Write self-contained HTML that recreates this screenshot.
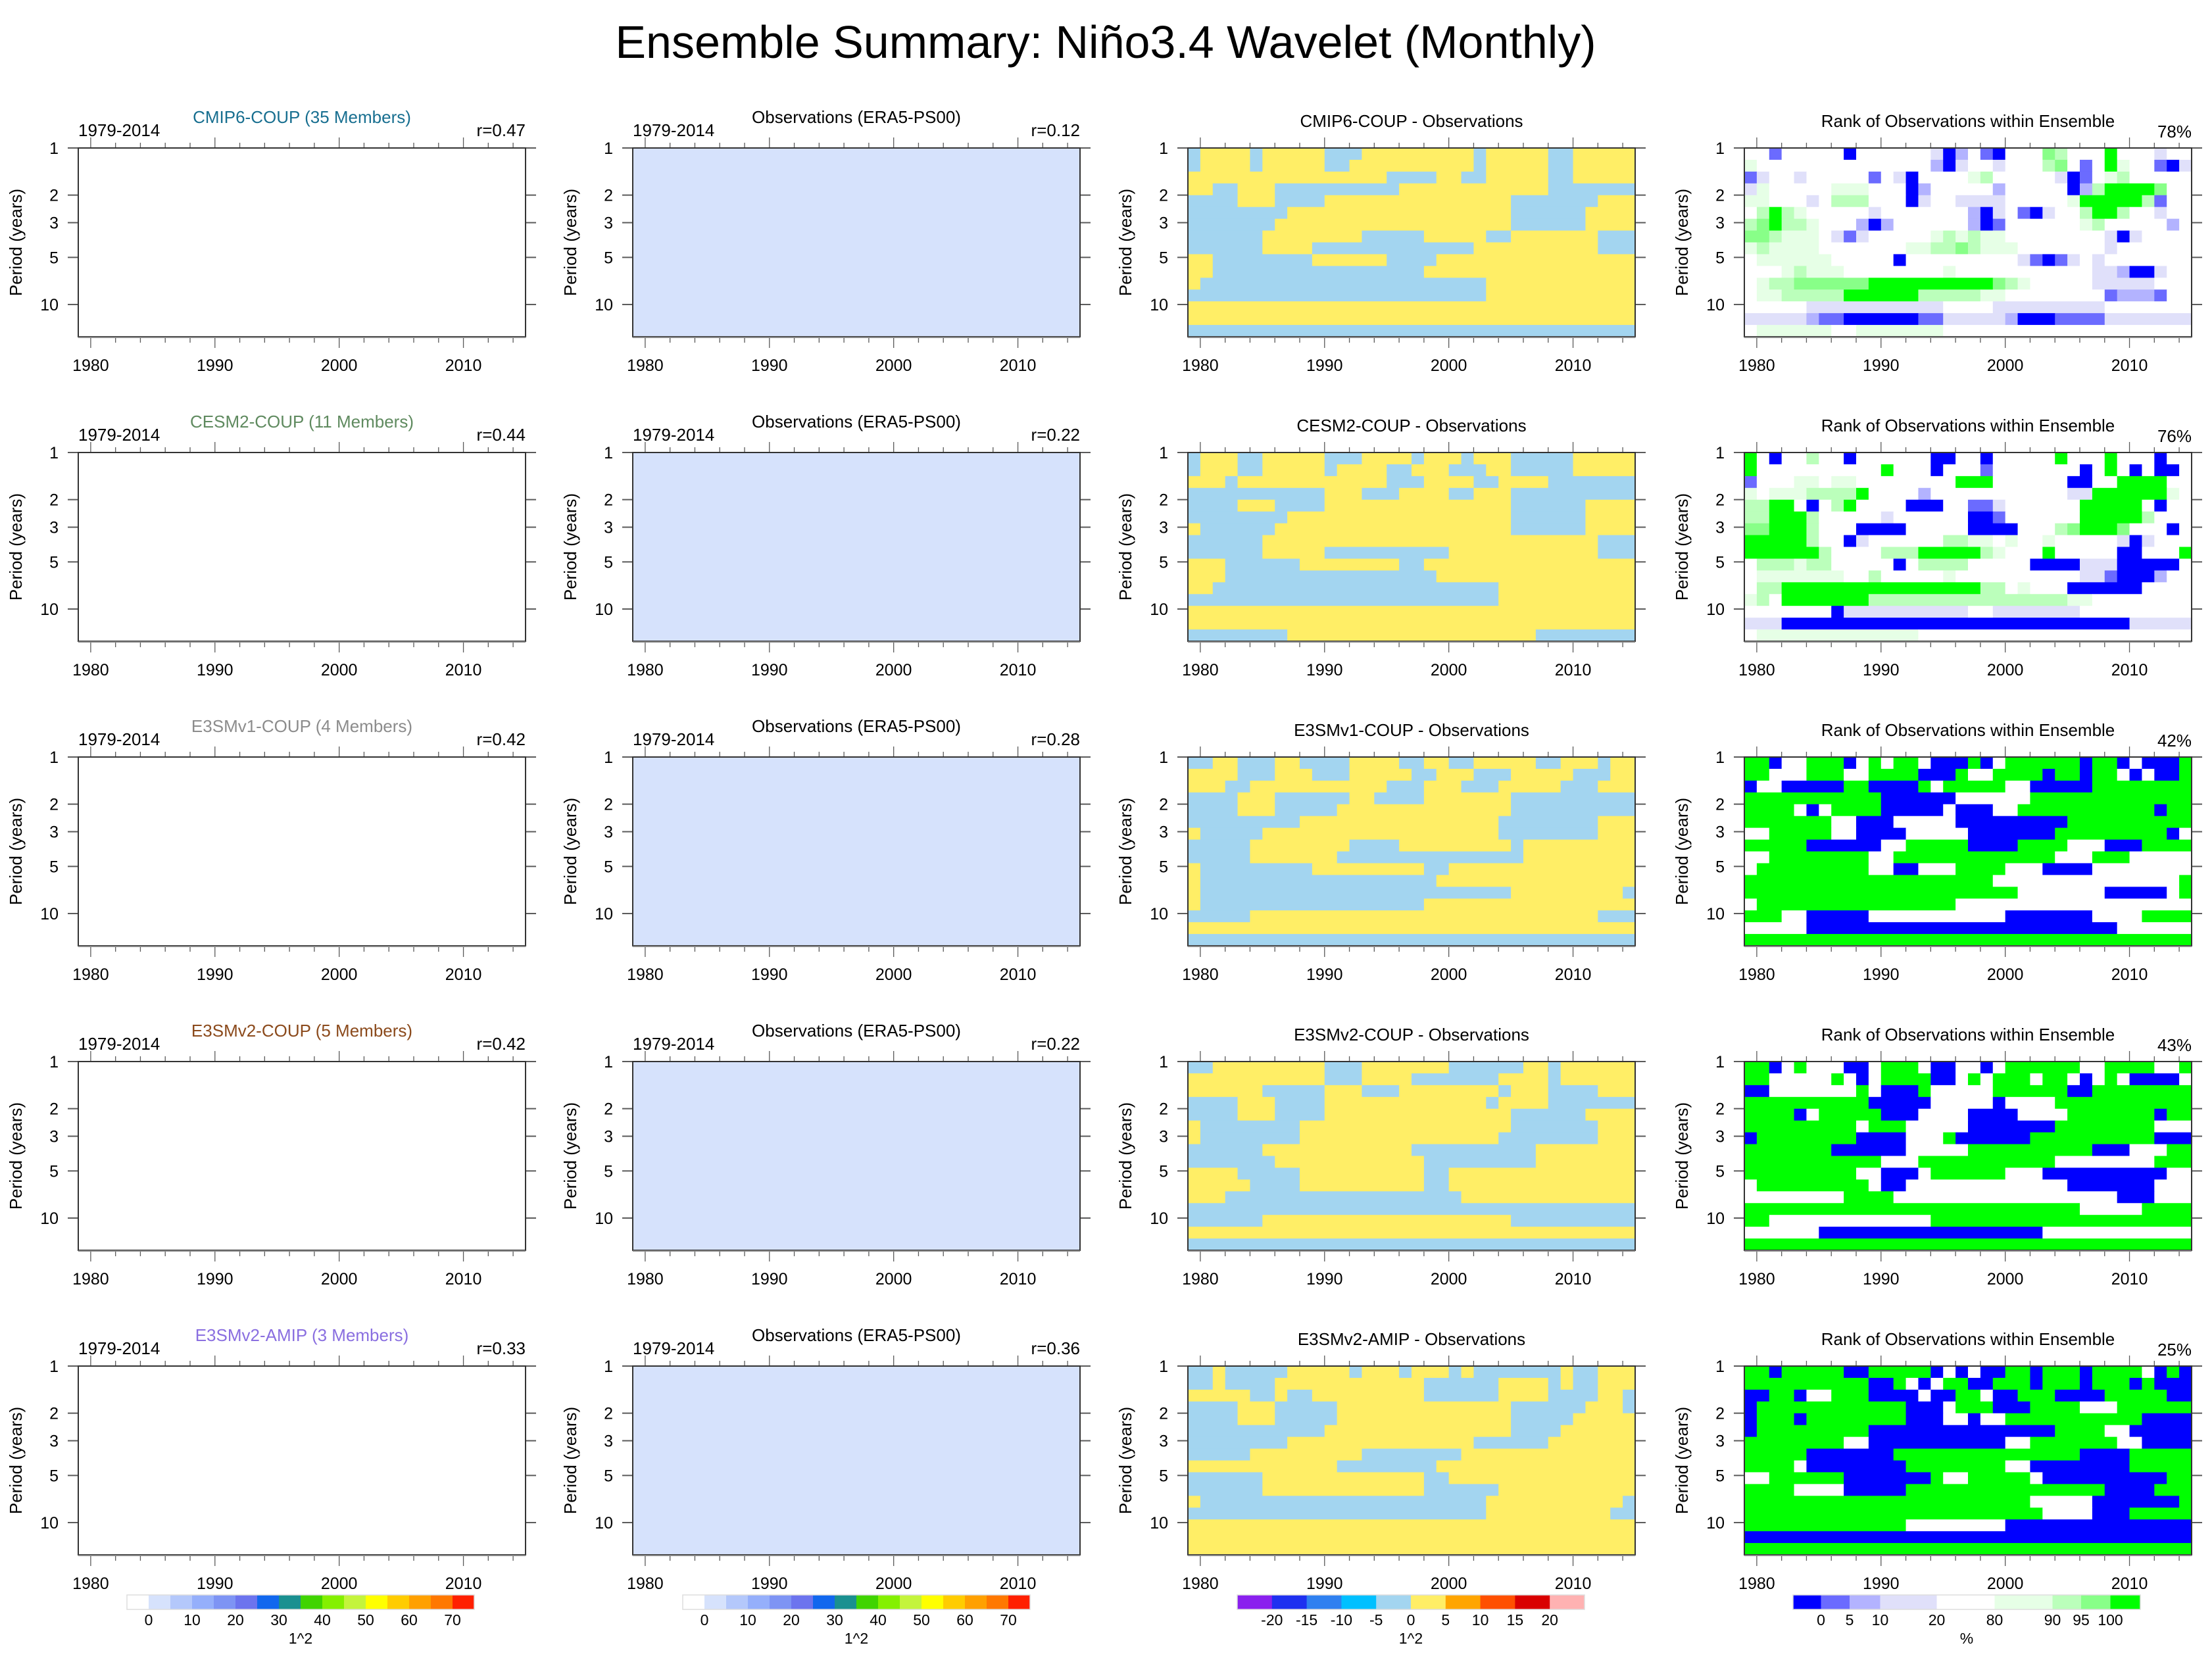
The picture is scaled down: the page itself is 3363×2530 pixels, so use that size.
<!DOCTYPE html>
<html><head><meta charset="utf-8"><title>Ensemble Summary: Niño3.4 Wavelet (Monthly)</title>
<style>html,body{margin:0;padding:0;background:#fff}svg{display:block}text{font-family:"Liberation Sans",Arial,sans-serif}</style>
</head><body>
<svg id="fig" xmlns="http://www.w3.org/2000/svg" width="3363" height="2530" viewBox="0 0 3363 2530">
<rect x="0" y="0" width="3363" height="2530" fill="#ffffff"/>
<text x="1681" y="88" font-size="70" text-anchor="middle" fill="#000">Ensemble Summary: Niño3.4 Wavelet (Monthly)</text>
</svg>
<script>
// ---- data ----
const yearTicks=[1980,1990,2000,2010];
const minorYears=[1980,1982,1984,1986,1988,1990,1992,1994,1996,1998,2000,2002,2004,2006,2008,2010,2012,2014];
const periodTicks=[1,2,3,5,10];
const periodLabels=["1","2","3","5","10"];
const modelTitles=["CMIP6-COUP (35 Members)","CESM2-COUP (11 Members)","E3SMv1-COUP (4 Members)","E3SMv2-COUP (5 Members)","E3SMv2-AMIP (3 Members)"];
const modelColors=["#186f90","#5f8a5f","#8c8c8c","#8b4a1c","#8a6fe0"];
const modelR=["r=0.47","r=0.44","r=0.42","r=0.42","r=0.33"];
const obsR=["r=0.12","r=0.22","r=0.28","r=0.22","r=0.36"];
const diffTitles=["CMIP6-COUP - Observations","CESM2-COUP - Observations","E3SMv1-COUP - Observations","E3SMv2-COUP - Observations","E3SMv2-AMIP - Observations"];
const rankPct=["78%","76%","42%","43%","25%"];

const diff1=["BYYYYBYYYYYBBBYYYYYYYYYBYYYYYBBYYYYY","BYYYYBYYYYYBBYYYYYYYYYYBYYYYYBBYYYYY","YYYYYYYYYYYYYYYYBBBBYYBBYYYYYBBYYYYY","YYBBYYYBBBBBBBBBBYYYYYYYYYYYYBBBBBBB","BBBBYYYBBBBYYYYYYYYYYYYYYYBBBBBBBYYY","BBBBBBBBYYYYYYYYYYYYYYYYYYBBBBBBYYYY","BBBBBBBYYYYYYYYYYYYYYYYYYYBBBBBBYYYY","BBBBBBYYYYYYYYBBBBBYYYYYBBYYYYYYYBBB","BBBBBBYYYYBBBBBBBBBBBBBYYYYYYYYYYBBB","YYBBBBBBBBYYYYYYBBBBYYYYYYYYYYYYYYYY","YYBBBBBBBBBBBBBBBBBYYYYYYYYYYYYYYYYY","YBBBBBBBBBBBBBBBBBBBBBBBYYYYYYYYYYYY","BBBBBBBBBBBBBBBBBBBBBBBBYYYYYYYYYYYY","YYYYYYYYYYYYYYYYYYYYYYYYYYYYYYYYYYYY","YYYYYYYYYYYYYYYYYYYYYYYYYYYYYYYYYYYY","BBBBBBBBBBBBBBBBBBBBBBBBBBBBBBBBBBBB"];
const diff2=["BYYYBBYYYYYBBBYYYYBYYYBYYYBBBBBYYYYY","BYYYBBYYYYYBYYYYBBYYYBBBYYBBBBBYYYYY","YYYBYYYYYYYYYYYYBBBYYYYBBYYYYBBBBBBB","BBBBBBBBBBBYYYBBBYYYYBBYYYBBBBBBBBBB","BBBBYYYBBBBYYYYYYYYYYYYYYYBBBBBBYYYY","BBBBBBBBYYYYYYYYYYYYYYYYYYBBBBBBYYYY","YBBBBBBYYYYYYYYYYYYYYYYYYYBBBBBBYYYY","BBBBBBYYYYYYYYYYYYYYYYYYYYYYYYYYYBBB","BBBBBBYYYYYBBBBBBBBBBYYYYYYYYYYYYBBB","YYYBBBBBBYYYYYYYYBBYYYYYYYYYYYYYYYYY","YYYBBBBBBBBBBBBBBBBBYYYYYYYYYYYYYYYY","YYBBBBBBBBBBBBBBBBBBBBBBBYYYYYYYYYYY","BBBBBBBBBBBBBBBBBBBBBBBBBYYYYYYYYYYY","YYYYYYYYYYYYYYYYYYYYYYYYYYYYYYYYYYYY","YYYYYYYYYYYYYYYYYYYYYYYYYYYYYYYYYYYY","BBBBBBBBYYYYYYYYYYYYYYYYYYYYBBBBBBBB"];
const diff3=["BBYYBBBYYBBBBYYYYBBYYBBYYYYYBBYYYBYY","YYYYBBBYYYBBBYYYYYBBYYYBBBYYYYYBBBYY","YYYBBYYYYYYYYYYYBBBYYYBBBYYYYYBBBYYY","BBBBYYYBBBBBBYYBBBBYYYYYYYBBBBBBBBBB","BBBBYYYBBBBBYYYYYYYYYYYYYYBBBBBBBBBB","BBBBBBBBBYYYYYYYYYYYYYYYYBBBBBBBBYYY","YBBBBBYYYYYYYYYYYYYYYYYYYBBBBBBBBYYY","BBBBBYYYYYYYYBBBBYYYYYYYYYBYYYYYYYYY","BBBBBYYYYYYYBBBBBBBBBBBBBBBYYYYYYYYY","YBBBBBBBBBYYYYYYYYYBBYYYYYYYYYYYYYYY","YBBBBBBBBBBBBBBBBBBBYYYYYYYYYYYYYYYY","YBBBBBBBBBBBBBBBBBBBBBBBBBYYYYYYYYYB","YBBBBBBBBBBBBBBBBBBYYYYYYYYYYYYYYYYY","BBBBBYYYYYYYYYYYYYYYYYYYYYYYYYYYYBBB","YYYYYYYYYYYYYYYYYYYYYYYYYYYYYYYYYYYY","BBBBBBBBBBBBBBBBBBBBBBBBBBBBBBBBBBBB"];
const diff4=["BBYYYYYYYYYBBBYYYYYYYBBBBBBYYBYYYYYY","YYYYYYYYYYYBBBYYYYBBBBBBBYYYYBYYYYYY","YYYYYYBBBBBYYYBBBYYYYYYYYBYYYBBBBYYY","BBBBYYYBBBBYYYYYYYYYYYYYBYYYYBBBBBBB","BBBBYYYBBBBYYYYYYYYYYYYYYYBBBBBBYYYY","YBBBBBBBBYYYYYYYYYYYYYYYYYBBBBBBBYYY","YBBBBBBBBYYYYYYYYYYYYYYYYBBBBBBBBYYY","BBBBBBYYYYYYYYYYYYBBBBBBBBBBYYYYYYYY","BBBBBBBYYYYYYYYYYYYBBBBBBBBBYYYYYYYY","YYYYBBBBBYYYYYYYYYYBBYYYYYYYYYYYYYYY","YYYYYBBBBYYYYYYYYYYBBYYYYYYYYYYYYYYY","YYYBBBBBBBBBBBBBBBBBBBYYYYYYYYYYYYYY","BBBBBBBBBBBBBBBBBBBBBBBBBBBBBBBBBBBB","BBBBBBYYYYYYYYYYYYYYYYYYYYBBBBBBBBBB","YYYYYYYYYYYYYYYYYYYYYYYYYYYYYYYYYYYY","BBBBBBBBBBBBBBBBBBBBBBBBBBBBBBBBBBBB"];
const diff5=["BBYBBBBBYYYYYBYYYBYYYBYBBBBBBBYBBYYY","BBYBBBBYYYYYYYYYYYYBBBBBBYYYYBYBBYYY","YYYYYBBYBBYYYYYYYYYBBBBBBYYYYBBBBYYB","BBBBYYYBBBBBYYYYYYYYYYYYYYBBBBBBYYYB","BBBBYYYBBBBBYYYYYYYYYYYYYYBBBBBYYYYY","BBBBBBBBBBBYYYYYYYYYYYYYYYBBBBYYYYYY","BBBBBBBBYYYYYYYYYYYYYYYBBBBBBYYYYYYY","BBBBBYYYYYYYYYBBBBBBBBYYYYYYYYYYYYYY","YYYYYYYYYYYYBBBBBBBBYYYYYYYYYYYYYYYY","BBBBBBYYYYYYYYYYYYYBBYYYYYYYYYYYYYYY","BBBBBBYYYYYYYYYYYYYBBBBBBYYYYYYYYYYY","YBBBBBBBBBBBBBBBBBBBBBBBYYYYYYYYYYYB","BBBBBBBBBBBBBBBBBBBBBBBBYYYYYYYYYYBB","YYYYYYYYYYYYYYYYYYYYYYYYYYYYYYYYYYYY","YYYYYYYYYYYYYYYYYYYYYYYYYYYYYYYYYYYY","YYYYYYYYYYYYYYYYYYYYYYYYYYYYYYYYYYYY"];

const rank1=["441444440444444302410444764448444344","544444444444444203443444674148544103","134434444414304444564444430145644444","354444455544402444442444440268888744","554443466644403443333444445888886144","468654444434444444203410344688644344","678665444202444444201444444564444424","776555431344444565655444444443034444","565555444444455667655544444443444444","455555544444044444444431013434444444","444565554444444454444444444433200344","456677777788888888887654444433333444","455666668888886666655444444441222144","444443333333333344443333333334444444","333332110000001133333200011113333333","455555544555555544444444444444444444"];
const rank2=["840446440444444004404444484448444044","844444444448444044414444444048404004","144455455444444448884444440044888844","545556666844442444444444443388888854","668840468444400044113444444888884044","668886444443444444001444444888886444","778886444000044444000044467888744404","888886440344444466554544544444303444","888888644446668888865444844444004448","466656644444046666444440000333000004","455555554464444454444444444331000244","466888888888888888866454440000004444","564888888866666666666666665544444444","444444403333333333443333333444444444","333000000000000000000000000000033333","455555555555554444444444444444444444"];
const rank3=["880448880484884000804888888088040008","884448884488880008448888088088404008","044000008800008488888440000088888888","888888888880000004444448888888888888","888840488880000040004488888888888088","888888844000444440000000008888888888","448888844000044444000000088888888804","888880000004488888000088884440008888","448888888844888888888888844488844444","488888888844004448888444000044444444","888888888888888888884444444444444448","888888888888888888888844444440000048","488888888888888884444444444444444444","888440000044444444444000000044448888","444440000000000000000000000000444444","888888888888888888888888888888888888"];
const rank4=["880484440048884004404888888448888448","884444484048888004848884884048400004","004444444840008444448888880088888888","888888888800000444440444488888888888","888804888880004444000044448888888088","888888888488844444000000088888888444","088888888000044480000008888888888000","888888800000044444888888888800044488","888888888884448888888888844444444888","888888888440004888888444000000000044","488888888840044444444444440000000444","444444448888444444444444444444000444","888888888888888888888888888444448888","884444444444444888888888888888888888","444444000000000000000000444444444444","888888888888888888888888888888888888"];
const rank5=["880888880088888040400880888088884080","888888888800840488008880888088808000","008804488800004008840088800008888800","088888888888800048880008888444888888","088808888888800044044888888888880000","088888888800000000000000088884400000","888888884400000000000448888888440000","888880000000888888888888888000088888","888840000000088888888440000000088888","448888880000000844888884000000000088","888844440000088888888888888880000888","888888888888888888888884444400000008","888888888888888888888888444400088888","888888888888844444444000000000000000","000000000000000000000000000000000000","888888888888888888888888888888888888"];

const cbValColors=["#ffffff","#d6e2fc","#b4c8fb","#95affb","#7e94f4","#6c74ee","#1167ee","#1a9090","#40d400","#84f000","#c4f43c","#ffff00","#ffcc00","#ffa000","#ff7800","#ff2000"];
const cbValLabels=["0","10","20","30","40","50","60","70"];
const cbDiffColors=["#8a20ee","#1e30f0","#2f80f0","#00c0ff","#a3d5f0","#ffee66","#ffa500","#ff5000","#d90000","#ffb2b2"];
const cbDiffLabels=["-20","-15","-10","-5","0","5","10","15","20"];
const cbRankColors=["#0000ff","#6b6bff","#b3b3ff","#e0e0fa","#ffffff","#e6ffe6","#bbffbb","#88ff88","#00ff00"];
const cbRankLabels=["0","5","10","20","80","90","95","100"];

// ---- layout ----
const NS="http://www.w3.org/2000/svg";
const svg=document.getElementById("fig");
const colLeft=[119,962,1806,2652];
const plotWs=[680,680,680,680];
const plotH=287;
const rowTop=k=>225+463*k;
const yearMin=1979, yearMax=2015, logMax=Math.log10(16.07);
const xScale=(yr,c)=>colLeft[c]+(yr-yearMin)/(yearMax-yearMin)*plotWs[c];
const yScale=(p,k)=>rowTop(k)+Math.log10(p)/logMax*plotH;
const diffPal={Y:"#ffee66",B:"#a3d5f0"};
const rankPal=d=>cbRankColors[+d];
const diffGrids=[diff1,diff2,diff3,diff4,diff5];
const rankGrids=[rank1,rank2,rank3,rank4,rank5];

function mk(tag,attrs,parent){const e=document.createElementNS(NS,tag);for(const a in attrs)e.setAttribute(a,attrs[a]);(parent||svg).appendChild(e);return e;}
function txt(str,attrs,parent){const e=mk("text",attrs,parent);e.textContent=str;return e;}

function drawGrid(grid,c,k,palFn,g){
  const top=rowTop(k),left=colLeft[c],w=plotWs[c],rh=plotH/grid.length;
  grid.forEach((row,ri)=>{
    const n=row.length,cw=w/n,y0=top+ri*rh;
    let s=0;
    for(let i=1;i<=n;i++){
      if(i===n||row[i]!==row[s]){
        const ww=(i-s)*cw+(i<n?0.6:0);
        const r=mk("rect",{x:(left+s*cw).toFixed(2),y:y0.toFixed(2),width:ww.toFixed(2),height:(rh+(ri<grid.length-1?0.6:0)).toFixed(2),fill:palFn(row[s])},g);
        
        
        s=i;
      }
    }
  });
}

function drawAxes(c,k,g){
  const top=rowTop(k),left=colLeft[c],w=plotWs[c],bot=top+plotH;
  const tk="#5a5a5a";
  minorYears.forEach(yr=>{
    const x=xScale(yr,c),major=yearTicks.indexOf(yr)>=0,len=major?16:8;
    const t1=mk("line",{x1:x,y1:top,x2:x,y2:top-len,stroke:tk,"stroke-width":1.3},g);
    
    
    const t2=mk("line",{x1:x,y1:bot,x2:x,y2:bot+len+1,stroke:tk,"stroke-width":1.3},g);
    
    
  });
  yearTicks.forEach(yr=>{
    const l=txt(String(yr),{x:xScale(yr,c),y:bot+52,"font-size":25,"text-anchor":"middle",fill:"#000"},g);
    
    
  });
  periodTicks.forEach((p,i)=>{
    const y=yScale(p,k);
    const a=mk("line",{x1:left-16,y1:y,x2:left,y2:y,stroke:tk,"stroke-width":2},g);
    
    
    const b=mk("line",{x1:left+w,y1:y,x2:left+w+16,y2:y,stroke:tk,"stroke-width":2},g);
    
    
    const l=txt(periodLabels[i],{x:left-30,y:y+9,"font-size":25,"text-anchor":"end",fill:"#000"},g);
    
    
  });
  const fr=mk("rect",{x:left,y:top,width:w,height:plotH,fill:"none",stroke:"#333","stroke-width":2},g);
  
  
  const bl=mk("line",{x1:left,y1:bot+1,x2:left+w,y2:bot+1,stroke:"#888","stroke-width":2},g);
  
  
  const cy=top+plotH/2,cx=left-86;
  const yl=txt("Period (years)",{x:cx,y:cy,"font-size":26,"text-anchor":"middle",fill:"#000",transform:`rotate(-90 ${cx} ${cy})`},g);
  
  
}

for(let k=0;k<5;k++){
  const top=rowTop(k);
  for(let c=0;c<4;c++){
    const g=mk("g",{});
    
    
    const left=colLeft[c],w=plotWs[c],cx=left+w/2;
    if(c===1){
      const f=mk("rect",{x:left,y:top,width:w,height:plotH,fill:"#d6e2fc"},g);
      
      
    }
    if(c===2) drawGrid(diffGrids[k],c,k,ch=>diffPal[ch],g);
    if(c===3) drawGrid(rankGrids[k],c,k,rankPal,g);
    drawAxes(c,k,g);
    if(c<2){
      const p=txt("1979-2014",{x:left,y:top-18,"font-size":26,fill:"#000"},g);
      
      
      const r=txt(c===0?modelR[k]:obsR[k],{x:left+w,y:top-18,"font-size":26,"text-anchor":"end",fill:"#000"},g);
      
      
      const t=txt(c===0?modelTitles[k]:"Observations (ERA5-PS00)",{x:cx,y:top-38,"font-size":26,"text-anchor":"middle",fill:c===0?modelColors[k]:"#000"},g);
      
      
    } else {
      const t=txt(c===2?diffTitles[k]:"Rank of Observations within Ensemble",{x:cx,y:top-32,"font-size":26,"text-anchor":"middle",fill:"#000"},g);
      
      
      if(c===3){
        const p=txt(rankPct[k],{x:left+w,y:top-16,"font-size":26,"text-anchor":"end",fill:"#000"},g);
        
        
      }
    }
  }
}

// ---- colorbars ----
function colorbar(x0,x1,colors,labels,edges,labelEdgeIdx,unit,name){
  const g=mk("g",{});
  
  
  const y0=2425,h=22,W=x1-x0;
  colors.forEach((col,i)=>{
    const r=mk("rect",{x:(x0+edges[i]*W).toFixed(2),y:y0,width:((edges[i+1]-edges[i])*W+0.5).toFixed(2),height:h,fill:col},g);
    
    
  });
  const o=mk("rect",{x:x0,y:y0,width:W,height:h,fill:"none",stroke:"#dddddd","stroke-width":1.5},g);
  
  
  labels.forEach((lb,i)=>{
    const t=txt(lb,{x:x0+edges[labelEdgeIdx[i]]*W,y:2471,"font-size":23,"text-anchor":"middle",fill:"#000"},g);
    
    
  });
  const u=txt(unit,{x:(x0+x1)/2,y:2499,"font-size":23,"text-anchor":"middle",fill:"#000"},g);
  
  
}
const even=n=>Array.from({length:n+1},(_,i)=>i/n);
const valEdgeIdx=cbValLabels.map((_,i)=>2*i+1);
const diffEdgeIdx=cbDiffLabels.map((_,i)=>i+1);
const rankEdgeIdx=cbRankLabels.map((_,i)=>i+1);
const rankEdges=[0,0.0805,0.1629,0.2509,0.4139,0.5805,0.7472,0.8296,0.9139,1];
colorbar(193,721,cbValColors,cbValLabels,even(16),valEdgeIdx,"1^2","model-colorbar");
colorbar(1038,1566,cbValColors,cbValLabels,even(16),valEdgeIdx,"1^2","obs-colorbar");
colorbar(1881,2409,cbDiffColors,cbDiffLabels,even(10),diffEdgeIdx,"1^2","diff-colorbar");
colorbar(2726,3254,cbRankColors,cbRankLabels,rankEdges,rankEdgeIdx,"%","rank-colorbar");
</script>
</body></html>
